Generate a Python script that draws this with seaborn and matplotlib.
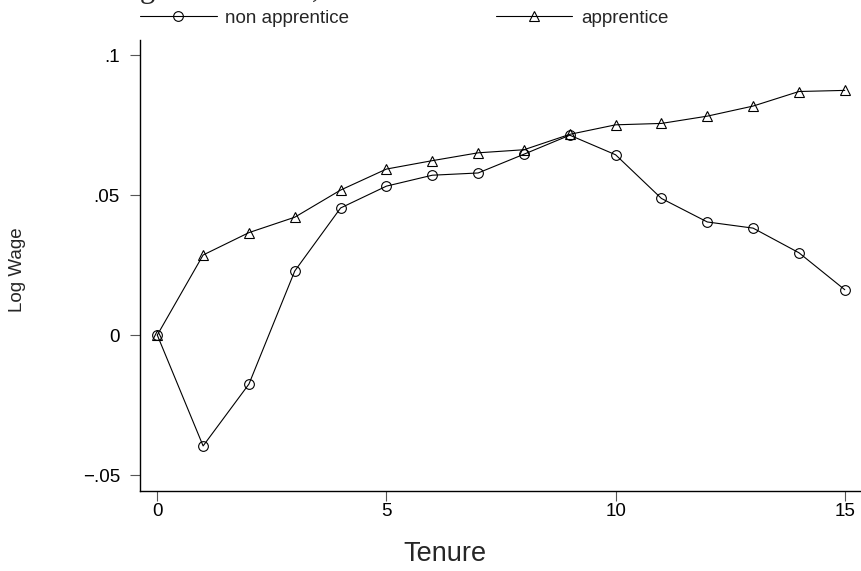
import matplotlib
matplotlib.use("Agg")
import matplotlib.pyplot as plt
import seaborn as sns
import pandas as pd

tenure = list(range(16))
non_apprentice = [0.0, -0.0396, -0.0175, 0.0229, 0.0454, 0.0532, 0.0571, 0.0579,
                  0.0646, 0.0714, 0.0644, 0.0488, 0.0404, 0.0382, 0.0294, 0.0162]
apprentice = [0.0, 0.0286, 0.0366, 0.0421, 0.0518, 0.0593, 0.0623, 0.0651,
              0.0662, 0.0717, 0.0751, 0.0756, 0.0782, 0.0818, 0.0870, 0.0874]
y_ticks = [-0.05, 0.0, 0.05, 0.1]
y_tick_labels = ["\u2212.05", "0", ".05", ".1"]
x_ticks = [0, 5, 10, 15]
x_tick_labels = ["0", "5", "10", "15"]

sns.set_style("ticks")
plt.rcParams["font.family"] = ["Liberation Sans", "DejaVu Sans"]

df = pd.DataFrame({"tenure": tenure, "non": non_apprentice, "app": apprentice})

W, H, DPI = 861, 571, 100
fig = plt.figure(figsize=(W / DPI, H / DPI), dpi=DPI)
ax = fig.add_axes([140 / W, 1 - 491 / H, (861 - 140) / W, (491 - 40) / H])

sns.lineplot(data=df, x="tenure", y="non", ax=ax, color="black", linewidth=0.8,
             marker="o", markersize=7, markerfacecolor="none",
             markeredgecolor="black", markeredgewidth=0.8, label="non apprentice",
             legend=False)
sns.lineplot(data=df, x="tenure", y="app", ax=ax, color="black", linewidth=0.8,
             marker="^", markersize=7, markerfacecolor="none",
             markeredgecolor="black", markeredgewidth=0.8, label="apprentice",
             legend=False)

ax.set_xlim(-0.377, 15.354)
ax.set_ylim(-0.0557, 0.1054)
ax.set_xticks(x_ticks)
ax.set_xticklabels(x_tick_labels)
ax.set_yticks(y_ticks)
ax.set_yticklabels(y_tick_labels)
sns.despine(ax=ax)
for s in ("left", "bottom"):
    ax.spines[s].set_linewidth(1.0)
    ax.spines[s].set_color("black")
ax.tick_params(axis="both", direction="out", length=7.5, width=0.8,
               color="#555555", labelsize=13.5, labelcolor="black")
ax.tick_params(axis="x", pad=1.5)
ax.tick_params(axis="y", pad=7)

ax.set_xlabel("Tenure", fontsize=19.5)
ax.xaxis.set_label_coords((445 - 140) / 721, (491 - 541) / 451)
ax.set_ylabel("Log Wage", fontsize=13.5)
ax.yaxis.set_label_coords((26 - 140) / 721, (491 - 270) / 451)

handles, labels = ax.get_legend_handles_labels()
fig.legend(handles, labels, loc="center left", ncol=2, frameon=False,
           bbox_to_anchor=(140 / W, 1 - 18 / H), borderaxespad=0, borderpad=0,
           fontsize=13.5, handlelength=4.1, handletextpad=0.45, columnspacing=7.8)

# clipped title remnants at the very top of the image
fig.text(147 / W, 1 + 3 / H, "g", family=["Liberation Serif", "DejaVu Serif"],
         fontsize=22, ha="center", va="baseline")
fig.text(316 / W, 1 + 3 / H, ",", family=["Liberation Serif", "DejaVu Serif"],
         fontsize=22, ha="center", va="baseline")

fig.savefig("out.png", dpi=DPI)
